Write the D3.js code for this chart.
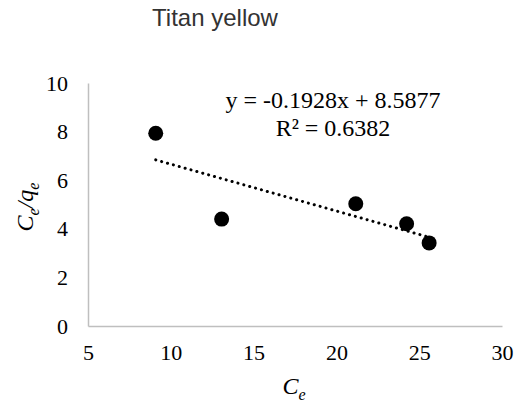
<!DOCTYPE html>
<html>
<head>
<meta charset="utf-8">
<script src="https://cdn.jsdelivr.net/npm/d3@7"></script>
<style>
  body { margin: 0; background: #fff; }
  svg text { fill: #000; }
</style>
</head>
<body>
<div id="chart"></div>
<script>
const ceValues = [9.09, 13.07, 21.17, 24.24, 25.6];
const ceQeValues = [7.93, 4.4, 5.03, 4.21, 3.42];
const xTicks = [5, 10, 15, 20, 25, 30];
const yTicks = [0, 2, 4, 6, 8, 10];
const slope = -0.1928;
const intercept = 8.5877;
const equationLabel = "y = -0.1928x + 8.5877";
const r2Label = "R² = 0.6382";
const chartTitle = "Titan yellow";

const width = 515;
const height = 409;
const margin = { top: 83, right: 13, bottom: 83, left: 88 };

const svg = d3
  .select("#chart")
  .append("svg")
  .attr("width", width)
  .attr("height", height);

const x = d3
  .scaleLinear()
  .domain([5, 30])
  .range([margin.left, width - margin.right]);
const y = d3
  .scaleLinear()
  .domain([0, 10])
  .range([height - margin.bottom, margin.top]);

const data = ceValues.map((ce, i) => ({ ce, ratio: ceQeValues[i] }));

// axes, no tick marks, grey domain line
const xAxis = svg
  .append("g")
  .attr("transform", `translate(0,${y(0)})`)
  .call(d3.axisBottom(x).tickValues(xTicks).tickSize(0).tickPadding(19));
const yAxis = svg
  .append("g")
  .attr("transform", `translate(${x(5)},0)`)
  .call(d3.axisLeft(y).tickValues(yTicks).tickSize(0).tickPadding(20));

[xAxis, yAxis].forEach((g) => {
  g.select(".domain").attr("stroke", "#bfbfbf").attr("stroke-width", 1.5);
  g.selectAll("text")
    .attr("font-family", "Liberation Serif, Times New Roman, serif")
    .attr("font-size", 22)
    .attr("fill", "#000");
});
xAxis.selectAll("text").attr("dy", "0.66em");

// trendline over the data range
const xMin = d3.min(ceValues);
const xMax = d3.max(ceValues);
svg
  .append("line")
  .attr("x1", x(xMin))
  .attr("y1", y(slope * xMin + intercept))
  .attr("x2", x(xMax))
  .attr("y2", y(slope * xMax + intercept))
  .attr("stroke", "#000")
  .attr("stroke-width", 3)
  .attr("stroke-linecap", "round")
  .attr("stroke-dasharray", "0.1 6");

svg
  .selectAll("circle")
  .data(data)
  .enter()
  .append("circle")
  .attr("cx", (d) => x(d.ce))
  .attr("cy", (d) => y(d.ratio))
  .attr("r", 7.5)
  .attr("fill", "#000");

// equation label
const eq = svg
  .append("text")
  .attr("text-anchor", "middle")
  .attr("font-family", "Liberation Serif, Times New Roman, serif")
  .attr("font-size", 24);
eq.append("tspan").attr("x", 333).attr("y", 108).text(equationLabel);
eq.append("tspan").attr("x", 333).attr("y", 136).text(r2Label);

// title
svg
  .append("text")
  .attr("x", 215)
  .attr("y", 26)
  .attr("text-anchor", "middle")
  .attr("font-family", "Liberation Sans, Arial, sans-serif")
  .attr("font-size", 24)
  .style("fill", "#333")
  .text(chartTitle);

// axis titles
const xTitle = svg
  .append("text")
  .attr("x", 294)
  .attr("y", 394)
  .attr("text-anchor", "middle")
  .attr("font-family", "Liberation Serif, Times New Roman, serif")
  .attr("font-size", 24)
  .attr("font-style", "italic");
xTitle.append("tspan").text("C");
xTitle.append("tspan").attr("font-size", 16).attr("dy", 6).text("e");

const yTitle = svg
  .append("text")
  .attr("transform", "translate(33,207) rotate(-90)")
  .attr("text-anchor", "middle")
  .attr("font-family", "Liberation Serif, Times New Roman, serif")
  .attr("font-size", 24)
  .attr("font-style", "italic");
yTitle.append("tspan").text("C");
yTitle.append("tspan").attr("font-size", 16).attr("dy", 6).text("e");
yTitle.append("tspan").attr("dy", -6).text("/q");
yTitle.append("tspan").attr("font-size", 16).attr("dy", 6).text("e");
</script>
</body>
</html>
